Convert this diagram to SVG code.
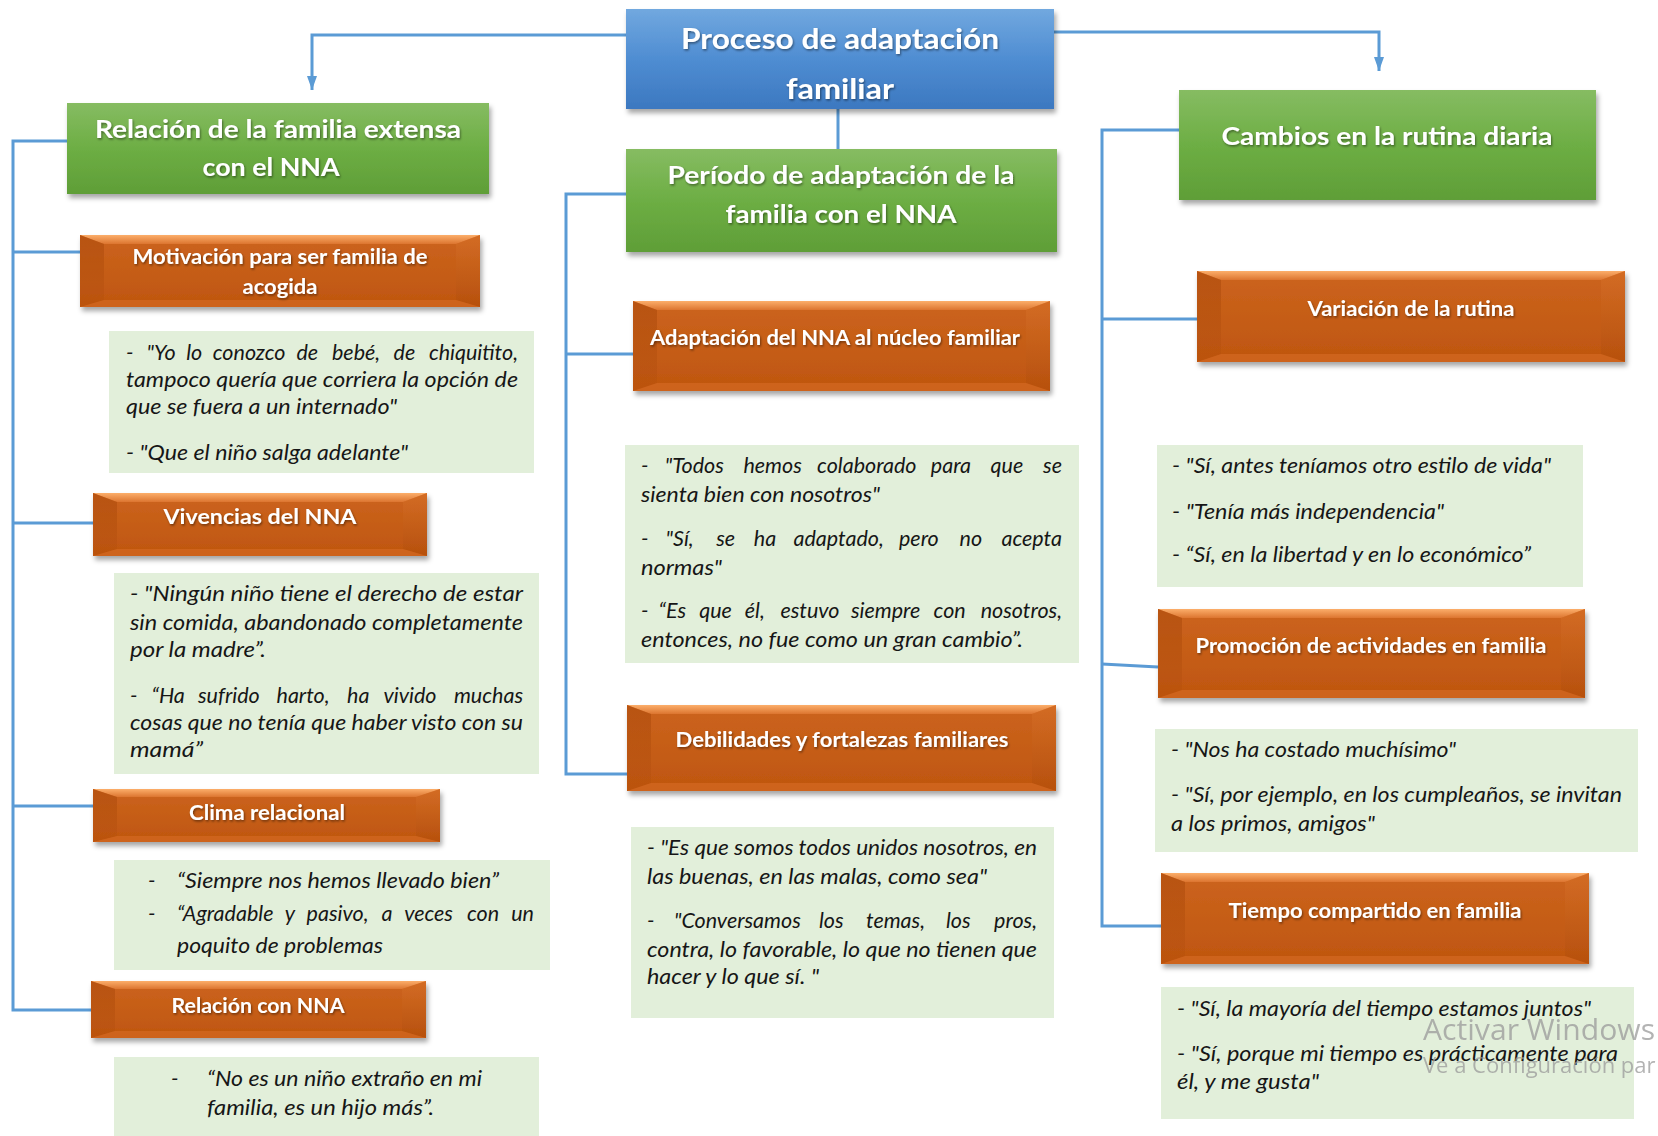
<svg xmlns="http://www.w3.org/2000/svg" width="1658" height="1136" viewBox="0 0 1658 1136">
<style>
.q{font-family:Lato,"Open Sans","Liberation Sans",sans-serif;font-style:italic;font-size:21.5px;fill:#161616}
.e{text-anchor:end}
.oh{font-family:Lato,"Open Sans","Liberation Sans",sans-serif;font-weight:bold;font-size:20px;fill:#fff;text-anchor:middle;filter:url(#ts)}
.gh{font-family:Lato,"Open Sans","Liberation Sans",sans-serif;font-weight:bold;font-size:25px;fill:#fff;text-anchor:middle;filter:url(#ts)}
.th{font-family:Lato,"Open Sans","Liberation Sans",sans-serif;font-weight:bold;font-size:28px;fill:#fff;text-anchor:middle;filter:url(#ts)}
.qb{fill:#e2efda}
.ob{fill:url(#orBody);filter:url(#sh)}
.ot{fill:url(#orTop)}
.ol{fill:url(#orL)}
.or{fill:url(#orR)}
.obt{fill:#d8702a;opacity:.55}
.gb{fill:url(#greenG);filter:url(#sh)}
.con{fill:none;stroke:#5b9bd5;stroke-width:3}
.wm{font-family:"Open Sans",Lato,sans-serif;fill:#9a9a9a;opacity:.75}
</style>
<defs>
<linearGradient id="blueG" x1="0" y1="0" x2="0" y2="1"><stop offset="0" stop-color="#71a8df"/><stop offset="0.5" stop-color="#4f8dd2"/><stop offset="1" stop-color="#3c78c0"/></linearGradient>
<linearGradient id="greenG" x1="0" y1="0" x2="0" y2="1"><stop offset="0" stop-color="#86bc62"/><stop offset="0.5" stop-color="#6dae44"/><stop offset="1" stop-color="#5f9e37"/></linearGradient>
<linearGradient id="orBody" x1="0" y1="0" x2="0" y2="1"><stop offset="0" stop-color="#cc641e"/><stop offset="1" stop-color="#bf560f"/></linearGradient>
<linearGradient id="orTop" x1="0" y1="0" x2="0" y2="1"><stop offset="0" stop-color="#fcae6a"/><stop offset="1" stop-color="#dc7530"/></linearGradient>
<linearGradient id="orL" x1="0" y1="0" x2="0" y2="1"><stop offset="0" stop-color="#a84709" stop-opacity="0.55"/><stop offset="1" stop-color="#a84709" stop-opacity="0.15"/></linearGradient>
<linearGradient id="orR" x1="0" y1="0" x2="0" y2="1"><stop offset="0" stop-color="#e07a30" stop-opacity="0.35"/><stop offset="1" stop-color="#a84709" stop-opacity="0.35"/></linearGradient>
<filter id="sh" x="-5%" y="-10%" width="112%" height="130%"><feDropShadow dx="2" dy="4" stdDeviation="2.5" flood-color="#000" flood-opacity="0.35"/></filter>
<filter id="ts" x="-5%" y="-20%" width="110%" height="150%"><feDropShadow dx="1" dy="1.5" stdDeviation="0.8" flood-color="#000" flood-opacity="0.45"/></filter>
<marker id="arr" markerUnits="userSpaceOnUse" markerWidth="14" markerHeight="10" refX="14" refY="5" orient="auto"><path d="M0,0 L14,5 L0,10 z" fill="#5b9bd5"/></marker>
</defs>
<rect width="1658" height="1136" fill="#fff"/>

<g id="connectors">
<path class="con" d="M626 35 H312 V90" marker-end="url(#arr)"/>
<path class="con" d="M1054 32 H1379 V71" marker-end="url(#arr)"/>
<path class="con" d="M838 109 V149"/>
<path class="con" d="M67 141 H13 V1010 H91"/>
<path class="con" d="M13 252 H80"/>
<path class="con" d="M13 523 H93"/>
<path class="con" d="M13 806 H93"/>
<path class="con" d="M626 194 H566 V774 H627"/>
<path class="con" d="M566 354 H633"/>
<path class="con" d="M1179 130 H1102 V926 H1161"/>
<path class="con" d="M1102 319 H1197"/>
<path class="con" d="M1102 664 L1158 667"/>
</g>

<g id="proceso">
<rect x="626" y="9" width="428" height="100" fill="url(#blueG)" filter="url(#sh)"/>
<text class="th" x="840" y="49" textLength="318" lengthAdjust="spacingAndGlyphs">Proceso de adaptación</text>
<text class="th" x="840" y="99" textLength="108" lengthAdjust="spacingAndGlyphs">familiar</text>
</g>

<g id="relacion-familia-extensa">
<rect class="gb" x="67" y="103" width="422" height="91"/>
<text class="gh" x="278" y="138" textLength="366" lengthAdjust="spacingAndGlyphs">Relación de la familia extensa</text>
<text class="gh" x="271" y="176" textLength="137" lengthAdjust="spacingAndGlyphs">con el NNA</text>
</g>

<g id="periodo-adaptacion">
<rect class="gb" x="626" y="149" width="431" height="103"/>
<text class="gh" x="841" y="184" textLength="347" lengthAdjust="spacingAndGlyphs">Período de adaptación de la</text>
<text class="gh" x="841" y="223" textLength="231" lengthAdjust="spacingAndGlyphs">familia con el NNA</text>
</g>

<g id="cambios-rutina">
<rect class="gb" x="1179" y="90" width="417" height="110"/>
<text class="gh" x="1387" y="145" textLength="331" lengthAdjust="spacingAndGlyphs">Cambios en la rutina diaria</text>
</g>

<g id="motivacion">
<rect class="ob" x="80" y="235" width="400" height="72"/>
<polygon class="ot" points="80,235 480,235 456,244 104,244"/>
<polygon class="ol" points="80,235 104,244 104,300 80,307"/>
<polygon class="or" points="480,235 456,244 456,300 480,307"/>
<polygon class="obt" points="80,307 104,300 456,300 480,307"/>
<text class="oh" x="280" y="264" textLength="295" lengthAdjust="spacingAndGlyphs">Motivación para ser familia de</text>
<text class="oh" x="280" y="294" textLength="75" lengthAdjust="spacingAndGlyphs">acogida</text>
</g>

<g id="q-motivacion">
<rect class="qb" x="109" y="331" width="425" height="142"/>
<text class="q" y="360"><tspan x="126">-</tspan><tspan x="146.6">"Yo</tspan><tspan x="186.2">lo</tspan><tspan x="212.8">conozco</tspan><tspan x="296.4">de</tspan><tspan x="332">bebé,</tspan><tspan x="393.6">de</tspan><tspan class="e" x="518">chiquitito,</tspan></text>
<text class="q" x="126" y="387" textLength="392" lengthAdjust="spacingAndGlyphs">tampoco quería que corriera la opción de</text>
<text class="q" x="126" y="414" textLength="271" lengthAdjust="spacingAndGlyphs">que se fuera a un internado"</text>
<text class="q" x="126" y="460" textLength="282" lengthAdjust="spacingAndGlyphs">- "Que el niño salga adelante"</text>
</g>

<g id="vivencias">
<rect class="ob" x="93" y="493" width="334" height="63"/>
<polygon class="ot" points="93,493 427,493 403,502 117,502"/>
<polygon class="ol" points="93,493 117,502 117,549 93,556"/>
<polygon class="or" points="427,493 403,502 403,549 427,556"/>
<polygon class="obt" points="93,556 117,549 403,549 427,556"/>
<text class="oh" x="260" y="524" textLength="193" lengthAdjust="spacingAndGlyphs">Vivencias del NNA</text>
</g>

<g id="q-vivencias">
<rect class="qb" x="114" y="573" width="425" height="201"/>
<text class="q" x="130" y="601" textLength="393" lengthAdjust="spacingAndGlyphs">- "Ningún niño tiene el derecho de estar</text>
<text class="q" x="130" y="630" textLength="393" lengthAdjust="spacingAndGlyphs">sin comida, abandonado completamente</text>
<text class="q" x="130" y="657" textLength="136" lengthAdjust="spacingAndGlyphs">por la madre”.</text>
<text class="q" y="703"><tspan x="130">-</tspan><tspan x="151.5">“Ha</tspan><tspan x="198">sufrido</tspan><tspan x="276.5">harto,</tspan><tspan x="347">ha</tspan><tspan x="383.5">vivido</tspan><tspan class="e" x="523">muchas</tspan></text>
<text class="q" x="130" y="730" textLength="393" lengthAdjust="spacingAndGlyphs">cosas que no tenía que haber visto con su</text>
<text class="q" x="130" y="757" textLength="73" lengthAdjust="spacingAndGlyphs">mamá”</text>
</g>

<g id="clima">
<rect class="ob" x="93" y="789" width="347" height="53"/>
<polygon class="ot" points="93,789 440,789 416,797 117,797"/>
<polygon class="ol" points="93,789 117,797 117,836 93,842"/>
<polygon class="or" points="440,789 416,797 416,836 440,842"/>
<polygon class="obt" points="93,842 117,836 416,836 440,842"/>
<text class="oh" x="267" y="820" textLength="156" lengthAdjust="spacingAndGlyphs">Clima relacional</text>
</g>

<g id="q-clima">
<rect class="qb" x="114" y="860" width="436" height="110"/>
<text class="q" x="148" y="888">-</text>
<text class="q" x="177" y="888" textLength="322" lengthAdjust="spacingAndGlyphs">“Siempre nos hemos llevado bien”</text>
<text class="q" x="148" y="921">-</text>
<text class="q" y="921"><tspan x="177">“Agradable</tspan><tspan x="284.8">y</tspan><tspan x="306.6">pasivo,</tspan><tspan x="381.4">a</tspan><tspan x="404.2">veces</tspan><tspan x="467">con</tspan><tspan class="e" x="534">un</tspan></text>
<text class="q" x="177" y="953" textLength="206" lengthAdjust="spacingAndGlyphs">poquito de problemas</text>
</g>

<g id="relacion-nna">
<rect class="ob" x="91" y="981" width="335" height="57"/>
<polygon class="ot" points="91,981 426,981 402,989 115,989"/>
<polygon class="ol" points="91,981 115,989 115,1031 91,1038"/>
<polygon class="or" points="426,981 402,989 402,1031 426,1038"/>
<polygon class="obt" points="91,1038 115,1031 402,1031 426,1038"/>
<text class="oh" x="258" y="1013" textLength="173" lengthAdjust="spacingAndGlyphs">Relación con NNA</text>
</g>

<g id="q-relacion-nna">
<rect class="qb" x="114" y="1057" width="425" height="79"/>
<text class="q" x="171" y="1086">-</text>
<text class="q" x="207" y="1086" textLength="275" lengthAdjust="spacingAndGlyphs">“No es un niño extraño en mi</text>
<text class="q" x="207" y="1115" textLength="227" lengthAdjust="spacingAndGlyphs">familia, es un hijo más”.</text>
</g>

<g id="adaptacion-nna">
<rect class="ob" x="633" y="301" width="417" height="90"/>
<polygon class="ot" points="633,301 1050,301 1026,310 657,310"/>
<polygon class="ol" points="633,301 657,310 657,383 633,391"/>
<polygon class="or" points="1050,301 1026,310 1026,383 1050,391"/>
<polygon class="obt" points="633,391 657,383 1026,383 1050,391"/>
<text class="oh" x="835" y="345" textLength="370" lengthAdjust="spacingAndGlyphs">Adaptación del NNA al núcleo familiar</text>
</g>

<g id="q-adaptacion-nna">
<rect class="qb" x="625" y="445" width="454" height="218"/>
<text class="q" y="473"><tspan x="641">-</tspan><tspan x="664.7">"Todos</tspan><tspan x="743.4">hemos</tspan><tspan x="817.1">colaborado</tspan><tspan x="930.8">para</tspan><tspan x="990.5">que</tspan><tspan class="e" x="1062">se</tspan></text>
<text class="q" x="641" y="502" textLength="239" lengthAdjust="spacingAndGlyphs">sienta bien con nosotros"</text>
<text class="q" y="546"><tspan x="641">-</tspan><tspan x="665.6">"Sí,</tspan><tspan x="716.2">se</tspan><tspan x="753.8">ha</tspan><tspan x="793.4">adaptado,</tspan><tspan x="899">pero</tspan><tspan x="959.6">no</tspan><tspan class="e" x="1062">acepta</tspan></text>
<text class="q" x="641" y="575" textLength="81" lengthAdjust="spacingAndGlyphs">normas"</text>
<text class="q" y="618"><tspan x="641">-</tspan><tspan x="658.6">“Es</tspan><tspan x="699.2">que</tspan><tspan x="744.8">él,</tspan><tspan x="780.4">estuvo</tspan><tspan x="851">siempre</tspan><tspan x="933.6">con</tspan><tspan class="e" x="1062">nosotros,</tspan></text>
<text class="q" x="641" y="647" textLength="382" lengthAdjust="spacingAndGlyphs">entonces, no fue como un gran cambio”.</text>
</g>

<g id="debilidades">
<rect class="ob" x="627" y="705" width="429" height="86"/>
<polygon class="ot" points="627,705 1056,705 1032,714 651,714"/>
<polygon class="ol" points="627,705 651,714 651,783 627,791"/>
<polygon class="or" points="1056,705 1032,714 1032,783 1056,791"/>
<polygon class="obt" points="627,791 651,783 1032,783 1056,791"/>
<text class="oh" x="842" y="747" textLength="333" lengthAdjust="spacingAndGlyphs">Debilidades y fortalezas familiares</text>
</g>

<g id="q-debilidades">
<rect class="qb" x="631" y="827" width="423" height="191"/>
<text class="q" x="647" y="855" textLength="390" lengthAdjust="spacingAndGlyphs">- "Es que somos todos unidos nosotros, en</text>
<text class="q" x="647" y="884" textLength="340" lengthAdjust="spacingAndGlyphs">las buenas, en las malas, como sea"</text>
<text class="q" y="928"><tspan x="647">-</tspan><tspan x="674">"Conversamos</tspan><tspan x="819">los</tspan><tspan x="866">temas,</tspan><tspan x="946">los</tspan><tspan class="e" x="1037">pros,</tspan></text>
<text class="q" x="647" y="957" textLength="390" lengthAdjust="spacingAndGlyphs">contra, lo favorable, lo que no tienen que</text>
<text class="q" x="647" y="984" textLength="172" lengthAdjust="spacingAndGlyphs">hacer y lo que sí. "</text>
</g>

<g id="variacion">
<rect class="ob" x="1197" y="271" width="428" height="91"/>
<polygon class="ot" points="1197,271 1625,271 1601,280 1221,280"/>
<polygon class="ol" points="1197,271 1221,280 1221,354 1197,362"/>
<polygon class="or" points="1625,271 1601,280 1601,354 1625,362"/>
<polygon class="obt" points="1197,362 1221,354 1601,354 1625,362"/>
<text class="oh" x="1411" y="316" textLength="207" lengthAdjust="spacingAndGlyphs">Variación de la rutina</text>
</g>

<g id="q-variacion">
<rect class="qb" x="1157" y="445" width="426" height="142"/>
<text class="q" x="1172" y="473" textLength="379" lengthAdjust="spacingAndGlyphs">- "Sí, antes teníamos otro estilo de vida"</text>
<text class="q" x="1172" y="519" textLength="272" lengthAdjust="spacingAndGlyphs">- "Tenía más independencia"</text>
<text class="q" x="1172" y="562" textLength="359" lengthAdjust="spacingAndGlyphs">- “Sí, en la libertad y en lo económico”</text>
</g>

<g id="promocion">
<rect class="ob" x="1158" y="609" width="427" height="89"/>
<polygon class="ot" points="1158,609 1585,609 1561,618 1182,618"/>
<polygon class="ol" points="1158,609 1182,618 1182,690 1158,698"/>
<polygon class="or" points="1585,609 1561,618 1561,690 1585,698"/>
<polygon class="obt" points="1158,698 1182,690 1561,690 1585,698"/>
<text class="oh" x="1371" y="653" textLength="351" lengthAdjust="spacingAndGlyphs">Promoción de actividades en familia</text>
</g>

<g id="q-promocion">
<rect class="qb" x="1155" y="729" width="483" height="123"/>
<text class="q" x="1171" y="757" textLength="285" lengthAdjust="spacingAndGlyphs">- "Nos ha costado muchísimo"</text>
<text class="q" x="1171" y="802" textLength="451" lengthAdjust="spacingAndGlyphs">- "Sí, por ejemplo, en los cumpleaños, se invitan</text>
<text class="q" x="1171" y="831" textLength="204" lengthAdjust="spacingAndGlyphs">a los primos, amigos"</text>
</g>

<g id="tiempo">
<rect class="ob" x="1161" y="873" width="428" height="91"/>
<polygon class="ot" points="1161,873 1589,873 1565,882 1185,882"/>
<polygon class="ol" points="1161,873 1185,882 1185,956 1161,964"/>
<polygon class="or" points="1589,873 1565,882 1565,956 1589,964"/>
<polygon class="obt" points="1161,964 1185,956 1565,956 1589,964"/>
<text class="oh" x="1375" y="918" textLength="293" lengthAdjust="spacingAndGlyphs">Tiempo compartido en familia</text>
</g>

<g id="q-tiempo">
<rect class="qb" x="1161" y="987" width="473" height="132"/>
<text class="q" x="1177" y="1016" textLength="414" lengthAdjust="spacingAndGlyphs">- "Sí, la mayoría del tiempo estamos juntos"</text>
<text class="q" x="1177" y="1061" textLength="441" lengthAdjust="spacingAndGlyphs">- "Sí, porque mi tiempo es prácticamente para</text>
<text class="q" x="1177" y="1089" textLength="142" lengthAdjust="spacingAndGlyphs">él, y me gusta"</text>
</g>

<g id="watermark">
<text class="wm" x="1423" y="1040" font-size="30" textLength="232" lengthAdjust="spacingAndGlyphs">Activar Windows</text>
<text class="wm" x="1423" y="1073" font-size="22">Ve a Configuración par</text>
</g>
</svg>
